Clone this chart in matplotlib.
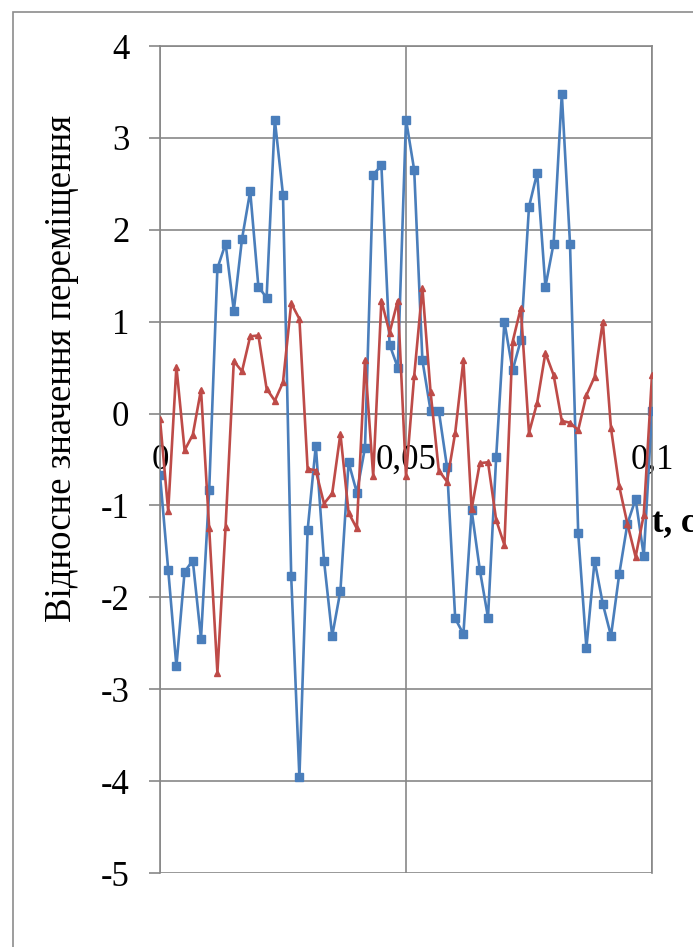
import numpy as np
import matplotlib
matplotlib.use('Agg')
import matplotlib.pyplot as plt
import matplotlib.patches as patches

plt.rcParams['font.family'] = ['Liberation Serif', 'DejaVu Serif']

# time step of the samples, s
t = np.arange(61) / 600.0

blue = [-0.67, -1.7, -2.75, -1.72, -1.6, -2.45, -0.83, 1.58, 1.85, 1.12,
        1.9, 2.42, 1.38, 1.26, 3.2, 2.38, -1.77, -3.96, -1.27, -0.35,
        -1.6, -2.42, -1.93, -0.53, -0.86, -0.37, 2.6, 2.7, 0.75, 0.5,
        3.2, 2.65, 0.58, 0.03, 0.03, -0.58, -2.23, -2.4, -1.05, -1.7,
        -2.22, -0.47, 1.0, 0.47, 0.8, 2.25, 2.62, 1.38, 1.85, 3.48,
        1.85, -1.3, -2.55, -1.6, -2.07, -2.42, -1.75, -1.2, -0.93, -1.55,
        0.03]

red = [-0.06, -1.06, 0.51, -0.4, -0.23, 0.26, -1.25, -2.82, -1.23, 0.57,
       0.46, 0.84, 0.85, 0.27, 0.14, 0.34, 1.2, 1.03, -0.6, -0.62,
       -0.98, -0.87, -0.22, -1.08, -1.25, 0.58, -0.68, 1.23, 0.88, 1.23,
       -0.68, 0.41, 1.37, 0.23, -0.62, -0.74, -0.21, 0.58, -1.04, -0.54,
       -0.53, -1.16, -1.43, 0.78, 1.15, -0.21, 0.12, 0.66, 0.42, -0.08,
       -0.1, -0.18, 0.2, 0.4, 1.0, -0.16, -0.79, -1.2, -1.56, -1.1,
       0.42]

xticks = [0, 0.05, 0.1]
xtick_labels = ['0', '0,05', '0,1']
yticks = list(range(-5, 5))

grid_col = '#878787'

fig = plt.figure(figsize=(6.93, 9.47), dpi=100)
ax = fig.add_axes([160 / 693, 1 - 873 / 947, 492 / 693, 827 / 947])

ax.plot(t, blue, color='#4a7ebb', lw=1.9, marker='s', ms=5.5, zorder=3)
ax.plot(t, red, color='#be4b48', lw=1.9, marker='^', ms=5, zorder=4)

ax.set_xlim(0, 0.1)
ax.set_ylim(-5, 4)
ax.set_yticks(yticks)
ax.set_yticklabels([str(v) for v in yticks])
ax.set_xticks(xticks)
ax.set_xticklabels(xtick_labels)
ax.grid(True, color=grid_col, lw=1.2)
ax.set_axisbelow(True)

for s in ['left', 'right', 'top']:
    ax.spines[s].set_color(grid_col)
    ax.spines[s].set_linewidth(1.2)
ax.spines['bottom'].set_position(('data', 0))
ax.spines['bottom'].set_color(grid_col)
ax.spines['bottom'].set_linewidth(1.2)
ax.spines['bottom'].set_zorder(1)

ax.tick_params(axis='y', length=8, width=1.2, color=grid_col, pad=14, labelsize=25)
ax.tick_params(axis='x', length=0, pad=22, labelsize=25)
for lab in ax.get_xticklabels():
    lab.set_clip_on(False)

ax.text(0.1, -1.2, 't, c', fontsize=25, fontweight='bold', ha='left', va='center')

fig.text(62 / 693, 1 - 368 / 947, 'Відносне значення переміщення', rotation=90,
         fontsize=26.5, ha='center', va='center')

# outer chart border, cropped at right and bottom
border = patches.Rectangle((13 / 693, -0.05), 1.2, 1 - 12 / 947 + 0.05,
                           transform=fig.transFigure, fill=False,
                           edgecolor='#8c8c8c', lw=1.2)
fig.patches.append(border)

fig.savefig('out.png', dpi=100)
